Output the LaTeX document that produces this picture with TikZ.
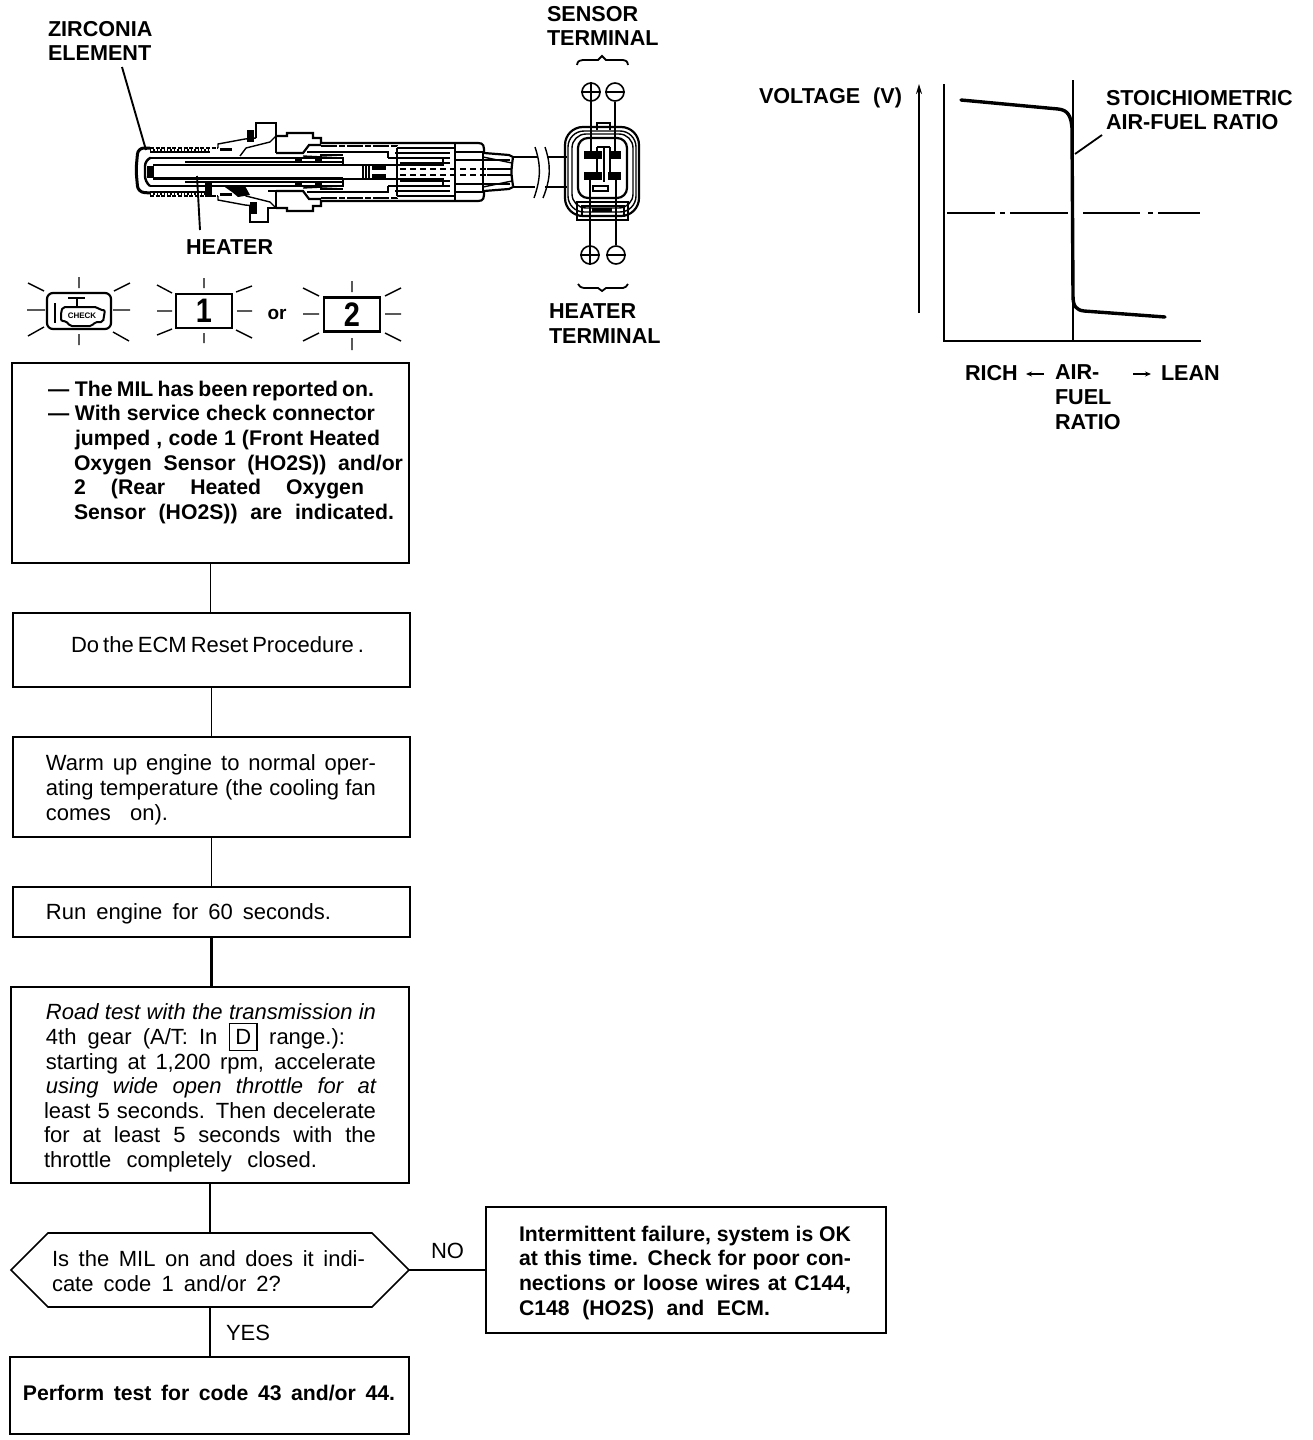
\documentclass[tikz,border=0pt]{standalone}
\usepackage{fontspec}
\setmainfont{Liberation Sans}
\usetikzlibrary{shapes.symbols,arrows.meta}
\newdimen\pxu \pxu=.5pt
\newcommand\st{\rule[-3pt]{0pt}{9pt}}
\newcommand\jl[2]{\makebox[#1\pxu][s]{\st #2}}
\newcommand\ind[1]{\hspace*{#1\pxu}}
\newcommand\boxD{\smash{\setlength{\fboxsep}{2.6pt}\setlength{\fboxrule}{.8pt}\fbox{D}}}
\newcommand\sensorhalf{%
 \draw[sth,dash pattern=on 2pt off .8pt] (150,-24)--(218,-24);
 \draw[sln] (218,-24)--(218,-28)--(245,-33)--(256,-34);
 \draw[sln,densely dotted] (150,-22)--(210,-22);
 \draw[sln] (150,-20)--(210,-20);
 \draw[sth] (150,-14)--(343,-14)--(343,-7);
 \draw[sth] (153,-7)--(363,-7)--(363,0);
 \draw[sln] (185,-10)--(343,-10);
 \draw[sth] (276,-36)--(287,-36)--(287,-39)--(313,-39)--(313,-34)--(321,-34)--(321,-29)--(478,-29)..controls (484,-29) and (484,-26)..(484,-19)--(509,-17)--(513,-15);
 \draw[sln] (240,-16)--(246,-24)--(270,-30)--(276,-36);
 \draw[sth] (276,-19)--(303,-19)--(309,-27)--(321,-27);
 \draw[sln] (303,-16)--(343,-14);
 \draw[sln] (320,-17)--(343,-17);
 \draw[sth,dash pattern=on 8pt off 1pt on 3pt off 1pt] (321,-26)--(397,-26)--(397,0);
 \draw[sln] (397,-24)--(455,-24);
 \draw[sth] (307,-20)--(388,-20)--(388,-14);
 \draw[sth] (395,-19)--(450,-19);
 \draw[line width=1.4pt] (388,-14)--(450,-14);
 \draw[sth] (400,-9)--(450,-9);
 \draw[sln] (455,-29)--(455,0);
 \draw[sln] (483,-19)--(483,0);
 \draw[sln] (455,-20)--(484,-20);
 \draw[sln] (455,-12)--(510,-12);
 \draw[sln] (483,-15)--(512,-9);
 \draw[sln,densely dashed] (400,-3)--(487,-3);
 \draw[sln] (487,-3)--(512,-3);
 \draw[sln] (443,-14)--(443,-7)--(360,-7);
 \draw[sln] (366,-7)--(366,0) (369,-7)--(369,0);
 \fill (295,-14) rectangle (302,-10);
 \fill (315,-14) rectangle (322,-10);
 \fill (372,-7) rectangle (386,-2);
 \fill (258,-15) rectangle (300,-14);
 \fill (220,-24) rectangle (232,-21);
}
\tikzset{
 sln/.style={line width=.7pt},
 sth/.style={line width=1.1pt},
 flow/.style={draw,line width=.85pt,inner sep=0pt,outer sep=0pt,anchor=north west},
 txt/.style={inner sep=0pt,outer sep=0pt,anchor=north west,align=left,font=\fontsize{11}{12.3}\selectfont},
 bld/.style={inner sep=0pt,outer sep=0pt,anchor=north west,align=left,font=\fontsize{10.6}{12.3}\selectfont\bfseries},
 lab/.style={inner sep=0pt,outer sep=0pt,anchor=north west,align=left,font=\fontsize{10.8}{12.4}\selectfont\bfseries},
 link/.style={line width=.85pt},
 ray/.style={line width=.7pt},
 lamp/.style={draw,line width=1.1pt,inner sep=0pt,anchor=center,font=\fontsize{17}{17}\selectfont\bfseries},
 term/.style={circle,draw,line width=.8pt,inner sep=0pt,minimum size=9pt},
 pin/.style={fill=black,inner sep=0pt,minimum width=9pt,minimum height=4pt},
 wire/.style={line width=1pt}
}
\begin{document}
\begin{tikzpicture}[x=.5pt,y=-.5pt]
\useasboundingbox (0,0) rectangle (1312,1440);
\fill[white] (0,0) rectangle (1312,1440);

% ---- sensor
\begin{scope}[shift={(0,172)}]\sensorhalf
 \fill (247,-42) rectangle (254,-30);
 \draw[sth] (256,-34)--(256,-49)--(276,-49)--(276,-19);
\end{scope}
\begin{scope}[shift={(0,172)},yscale=-1]\sensorhalf
 \fill (250,-42) rectangle (257,-30);
 \draw[sth] (250,-34)--(250,-50)--(268,-50)--(268,-36)--(276,-36);
 \draw[sln] (268,-19)--(276,-19)--(276,-36);
\end{scope}
\draw[line width=1.5pt,rounded corners=3pt] (150,148)--(138,148)--(136,170)--(138,192)--(150,193);
\draw[line width=1.2pt,rounded corners=3pt] (150,158)--(145,160)--(145,182)--(150,186);
\fill (147,166) rectangle (154,178);
\draw[sln] (154,178)--(343,178);
\fill (205,183) rectangle (212,197);
\fill (222,185)--(245,186)--(250,195)--(238,197)--(232,192)--cycle;
% cable
\draw[sth] (513,157)..controls (511,172)..(513,186);
\draw[sln] (513,157)--(537,157) (548,157)--(567,157) (513,187)--(535,187) (545,187)--(567,187);
\draw[sln] (535,147)..controls (541,165) and (541,178)..(534,198);
\draw[sln] (545,147)..controls (551,165) and (551,178)..(543,198);
% connector
\draw[sth,rounded corners=9pt] (565,127) rectangle (639,216);
\draw[sln,rounded corners=8pt] (568,131) rectangle (636,212);
\draw[sln,rounded corners=7pt] (572,134) rectangle (633,208);
\draw[sth,rounded corners=5pt] (578,138) rectangle (627,198);
\draw[sth] (577,202) rectangle (628,220);
\draw[sln] (582,206) rectangle (624,216);
\fill (592,208) rectangle (612,212);
\draw[sln] (597,130)--(597,123)--(610,123)--(610,130);
\draw[sln] (597,147)--(610,147) (597,147)--(597,176) (604,147)--(604,182) (610,147)--(610,176);
\draw[sth] (593,186) rectangle (608,191);
\node[pin] (ts1) at (593,155) {};
\node[pin,minimum width=5.5pt] (ts2) at (615,155) {};
\node[pin] (th1) at (593,175.5) {};
\node[pin,minimum width=6.5pt] (th2) at (614,175.5) {};
\node[term] (sp) at (591,92) {};
\node[term] (sm) at (615,92) {};
\node[term] (hp) at (590,255) {};
\node[term] (hm) at (616,255) {};
\draw[line width=.8pt] (sp.west)--(sp.east) (sm.west)--(sm.east) (hp.west)--(hp.east) (hm.west)--(hm.east) (sp.north)--(sp.south) (hp.north)--(hp.south);
\draw[wire] (sp.south)--(sp.south |- ts1.north);
\draw[wire] (sm.south)--(sm.south |- ts2.north);
\draw[wire] (hp.north)--(hp.north |- th1.south);
\draw[wire] (hm.north)--(hm.north |- th2.south);
% braces
\draw[line width=.9pt] (577,65)..controls (578,61)..(583,60)--(598,60)--(602,56)--(606,60)--(623,60)..controls (627,61)..(628,65);
\draw[line width=.9pt] (578,284)..controls (580,287)..(584,288)--(598,288)--(602,291)--(606,288)--(623,288)..controls (626,287)..(628,284);

% ---- sensor labels
\node[lab] (zirc) at (48,21) {\st ZIRCONIA\\\st ELEMENT};
\node[lab] (heat) at (186,240) {\st HEATER};
\node[lab] (sterm) at (547,6) {\st SENSOR\\\st TERMINAL};
\node[lab] (hterm) at (549,304) {\st HEATER\\\st TERMINAL};
\coordinate (ztip) at (146,150);
\coordinate (ztop) at (122,67);
\coordinate (htip) at (197,176);
\coordinate (hbot) at (200,230);
\draw[line width=.95pt] (ztop)--(ztip);
\draw[line width=.95pt] (hbot)--(htip);

% ---- lamps
\node[lamp,rounded corners=3pt,minimum width=32pt,minimum height=18pt] (mil) at (79,311) {};
\draw[line width=1pt,rounded corners=1pt] (63,307)--(97,307)--(100,310)--(105,310)--(103,322)--(95,322)--(92,326)--(70,326)--(66,321)--(61,321)--(61,312)--cycle;
\draw[line width=1pt] (55,303)--(55,323) (68,298)--(85,298) (77,298)--(77,307);
\node[inner sep=0pt,font=\fontsize{4}{4}\selectfont\bfseries] (chk) at (82,316) {CHECK};
\node[lamp,minimum width=28pt,minimum height=17pt] (one) at (204,311) {\raisebox{-.5pt}{\scalebox{.85}[1]{1}}};
\node[lamp,minimum width=28pt,minimum height=17pt] (two) at (352,314.5) {\raisebox{-.5pt}{\scalebox{.85}[1]{2}}};
\node[inner sep=0pt,font=\fontsize{9.5}{10}\selectfont\bfseries] (ortext) at (277,314) {or};
\draw[ray] (27,310)--(45,310) (113,310)--(130,310) (79,277)--(79,288) (79,334)--(79,345)
 (28,283)--(44,291) (114,291)--(130,283) (28,336)--(44,327) (113,332)--(129,341);
\draw[ray] (157,311)--(172,311) (237,311)--(252,311) (204,278)--(204,288) (204,333)--(204,343)
 (157,285)--(172,293) (236,292)--(252,286) (157,335)--(172,329) (236,330)--(252,338);
\draw[ray] (303,314)--(319,314) (385,314)--(401,314) (352,281)--(352,292) (352,338)--(352,350)
 (303,288)--(319,296) (385,296)--(401,288) (303,341)--(319,333) (385,333)--(401,341);

% ---- graph
\draw[line width=1.3pt,-{Stealth[length=5pt,width=3pt]}] (919,313)--(919,84);
\draw[line width=.85pt] (944,84)--(944,341)--(1201,341);
\draw[line width=.7pt] (1073,80)--(1073,341);
\draw[line width=.7pt,dash pattern=on 24pt off 2.5pt on 2.5pt off 2.5pt on 29pt off 7.5pt on 28.5pt off 4pt on 2.5pt off 2.5pt on 21pt] (947,213)--(1201,213);
\draw[line width=1.7pt,line cap=round] (961,100)--(1058,109)..controls (1068,110) and (1071,116)..(1072,128)--(1073,296)..controls (1073,306) and (1076,310)..(1084,311)--(1165,317);
\coordinate (sa) at (1075,154);
\coordinate (sb) at (1102,135);
\draw[line width=.9pt] (sa)--(sb);
\node[lab] (volt) at (759,88) {\jl{143}{VOLTAGE (V)}};
\node[lab] (stoi) at (1106,90) {\st STOICHIOMETRIC\\\st AIR-FUEL RATIO};
\node[lab] (rich) at (965,365) {\st RICH};
\node[lab] (afr) at (1055,365) {\st AIR-\\\st FUEL\\\st RATIO};
\node[lab] (lean) at (1161,366) {\st LEAN};
\coordinate (la) at (1044,374);
\coordinate (lb) at (1026,374);
\coordinate (ra) at (1133,374);
\coordinate (rb) at (1151,374);
\draw[line width=.6pt,-{Stealth[length=3pt,width=2.5pt]}] (la)--(lb);
\draw[line width=.6pt,-{Stealth[length=3pt,width=2.5pt]}] (ra)--(rb);

% ---- flow boxes
\node[flow,minimum width=198.5pt,minimum height=100pt] (b1) at (12,363) {};
\node[flow,minimum width=198.5pt,minimum height=37pt] (b2) at (13,613) {};
\node[flow,minimum width=198.5pt,minimum height=50pt] (b3) at (13,737) {};
\node[flow,minimum width=198.5pt,minimum height=25pt] (b4) at (13,887) {};
\node[flow,minimum width=199pt,minimum height=98pt] (b5) at (11,987) {};
\node[draw,line width=.85pt,shape=signal,signal to=west and east,signal pointer angle=90,inner sep=0pt,outer sep=0pt,minimum width=199pt,minimum height=37pt] (q) at (210,1270) {};
\node[flow,minimum width=200pt,minimum height=63pt] (fail) at (486,1207) {};
\node[flow,minimum width=199.5pt,minimum height=38.5pt] (end) at (10,1357) {};

\draw[link] (b1.south)--(b1.south |- b2.north);
\draw[link] (b2.south)--(b2.south |- b3.north);
\draw[link] (b3.south)--(b3.south |- b4.north);
\draw[link,line width=1.2pt] (b4.south)--(b4.south |- b5.north);
\draw[link] (b5.south)--(b5.south |- q.north);
\draw[link] (q.south)--(q.south |- end.north);
\draw[link] (q.east)--(q.east -| fail.west);

\node[bld] (t1) at (48,381) {
 \makebox[27\pxu][l]{\st —}\jl{299}{The MIL has been reported on.}\\
 \makebox[27\pxu][l]{\st —}\jl{300}{With service check connector}\\
 \ind{27}\jl{305}{jumped , code 1 (Front Heated}\\
 \ind{26}\jl{329}{Oxygen Sensor (HO2S)) and/or}\\
 \ind{26}\jl{290}{2 (Rear Heated Oxygen}\\
 \ind{26}\jl{320}{Sensor (HO2S)) are indicated.}};
\node[txt] (t2) at (71,637) {\jl{291}{Do the ECM Reset Procedure .}};
\node[txt] (t3) at (46,755) {\jl{330}{Warm up engine to normal oper-}\\\jl{330}{ating temperature (the cooling fan}\\\jl{122}{comes on).}};
\node[txt] (t4) at (46,904) {\jl{285}{Run engine for 60 seconds.}};
\node[txt] (t5) at (44,1004) {\ind{2}\jl{330}{\itshape Road test with the transmission in}\\
 \ind{2}\jl{299}{4th gear (A/T: In \boxD\ range.):}\\
 \ind{2}\jl{330}{starting at 1,200 rpm, accelerate}\\
 \ind{2}\jl{330}{\itshape using wide open throttle for at}\\
 \jl{332}{least 5 seconds. Then decelerate}\\
 \jl{332}{for at least 5 seconds with the}\\
 \jl{273}{throttle completely closed.}};
\node[txt] (t6) at (52,1251) {\jl{313}{Is the MIL on and does it indi-}\\\jl{229}{cate code 1 and/or 2?}};
\node[bld] (t7) at (519,1226) {\jl{332}{Intermittent failure, system is OK}\\\jl{332}{at this time. Check for poor con-}\\\jl{332}{nections or loose wires at C144,}\\\jl{251}{C148 (HO2S) and ECM.}};
\node[bld] (t8) at (23,1385) {\jl{372}{Perform test for code 43 and/or 44.}};
\node[txt] (no) at (431,1243) {\st NO};
\node[txt] (yes) at (226,1325) {\st YES};
\end{tikzpicture}
\end{document}
